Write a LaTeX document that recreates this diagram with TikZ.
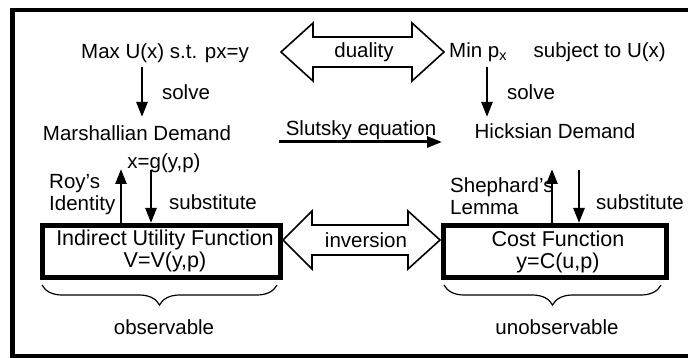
\documentclass[tikz,border=0pt]{standalone}
\usepackage{fontspec}
\setmainfont{Liberation Sans}
\usetikzlibrary{arrows.meta,decorations.pathreplacing}
\newcommand\ft{\fontsize{20.5}{22}\selectfont}
\newcommand\fb{\fontsize{21.5}{21.5}\selectfont}
\tikzset{
  lbl/.style={inner sep=0pt, font=\ft},
  boxtext/.style={inner sep=0pt, font=\fb, align=center},
  thinarrow/.style={line width=2.6pt, -{Triangle[length=15pt,width=11pt]}},
  bigbox/.style={draw, line width=5pt},
  dblarrow/.style={draw, line width=1.6pt, line join=miter},
  bracestyle/.style={decorate, decoration={brace, amplitude=20pt, mirror}, line width=1.2pt},
  frame/.style={draw, line width=4.5pt}
}
\begin{document}
\begin{tikzpicture}[x=1pt, y=-1pt]
\useasboundingbox (0,0) rectangle (688,358);
\draw[frame] (12.5,10) rectangle (692,356);

% top row
\node[lbl] (max) at (165,53) {Max U(x) s.t. px=y};
\node[lbl, anchor=west] (min) at (449,52) {Min p\textsubscript{x}\hspace{1.3em}subject to U(x)};
\draw[dblarrow] (281,52) -- (313,23) -- (313,37) -- (412,37) -- (412,23) -- (444,52)
  -- (412,81) -- (412,67) -- (313,67) -- (313,81) -- cycle;
\node[lbl] (duality) at (364,52) {duality};

% solve arrows
\coordinate (s1a) at (142,67); \coordinate (s1b) at (142,117);
\coordinate (s2a) at (487,67); \coordinate (s2b) at (487,117);
\draw[thinarrow] (s1a) -- (s1b);
\draw[thinarrow] (s2a) -- (s2b);
\node[lbl] (solve1) at (186,92) {solve};
\node[lbl] (solve2) at (531,92) {solve};

% demands
\node[lbl] (marsh) at (137,133) {Marshallian Demand};
\node[lbl] (xg) at (164,163) {x=g(y,p)};
\node[lbl] (hicks) at (555,131) {Hicksian Demand};
\node[lbl] (slutsky) at (361,130) {Slutsky equation};
\coordinate (sla) at (279,142); \coordinate (slb) at (442,142);
\draw[line width=3pt, -{Triangle[length=15pt,width=11pt]}] (sla) -- (slb);

% boxes
\draw[bigbox] (42.5,225.5) rectangle (280.5,277.5);
\node[boxtext] (iuf) at (165,251) {Indirect Utility Function\\V=V(y,p)};
\draw[bigbox] (443.5,225.5) rectangle (666.5,277.5);
\node[boxtext] (cf) at (558,252) {Cost Function\\y=C(u,p)};

% inversion
\draw[dblarrow] (283,240) -- (312,211) -- (312,225) -- (408,225) -- (408,211) -- (440,240)
  -- (408,269) -- (408,255) -- (312,255) -- (312,269) -- cycle;
\node[lbl] (inv) at (366,240) {inversion};

% vertical arrows
\coordinate (r1) at (121,223); \coordinate (r2) at (121,169);
\draw[thinarrow] (r1) -- (r2);
\coordinate (d1) at (151,170); \coordinate (d2) at (151,223);
\draw[thinarrow] (d1) -- (d2);
\coordinate (r3) at (552,223); \coordinate (r4) at (552,169);
\draw[thinarrow] (r3) -- (r4);
\coordinate (d3) at (579,170); \coordinate (d4) at (579,223);
\draw[thinarrow] (d3) -- (d4);

\node[lbl, anchor=west, align=left] (roy) at (49,195) {Roy's\\Identity};
\node[lbl] (sub1) at (213,202) {substitute};
\node[lbl, anchor=west, align=left] (shep) at (450,196) {Shephard's\\Lemma};
\node[lbl] (sub2) at (640,202) {substitute};

% braces
\coordinate (b1) at (42,285); \coordinate (b2) at (277,285);
\draw[bracestyle] (b1) -- (b2);
\coordinate (b3) at (444,285); \coordinate (b4) at (661,285);
\draw[bracestyle] (b3) -- (b4);
\node[lbl] (obs) at (164,327) {observable};
\node[lbl] (unobs) at (557,327) {unobservable};
\end{tikzpicture}
\end{document}
